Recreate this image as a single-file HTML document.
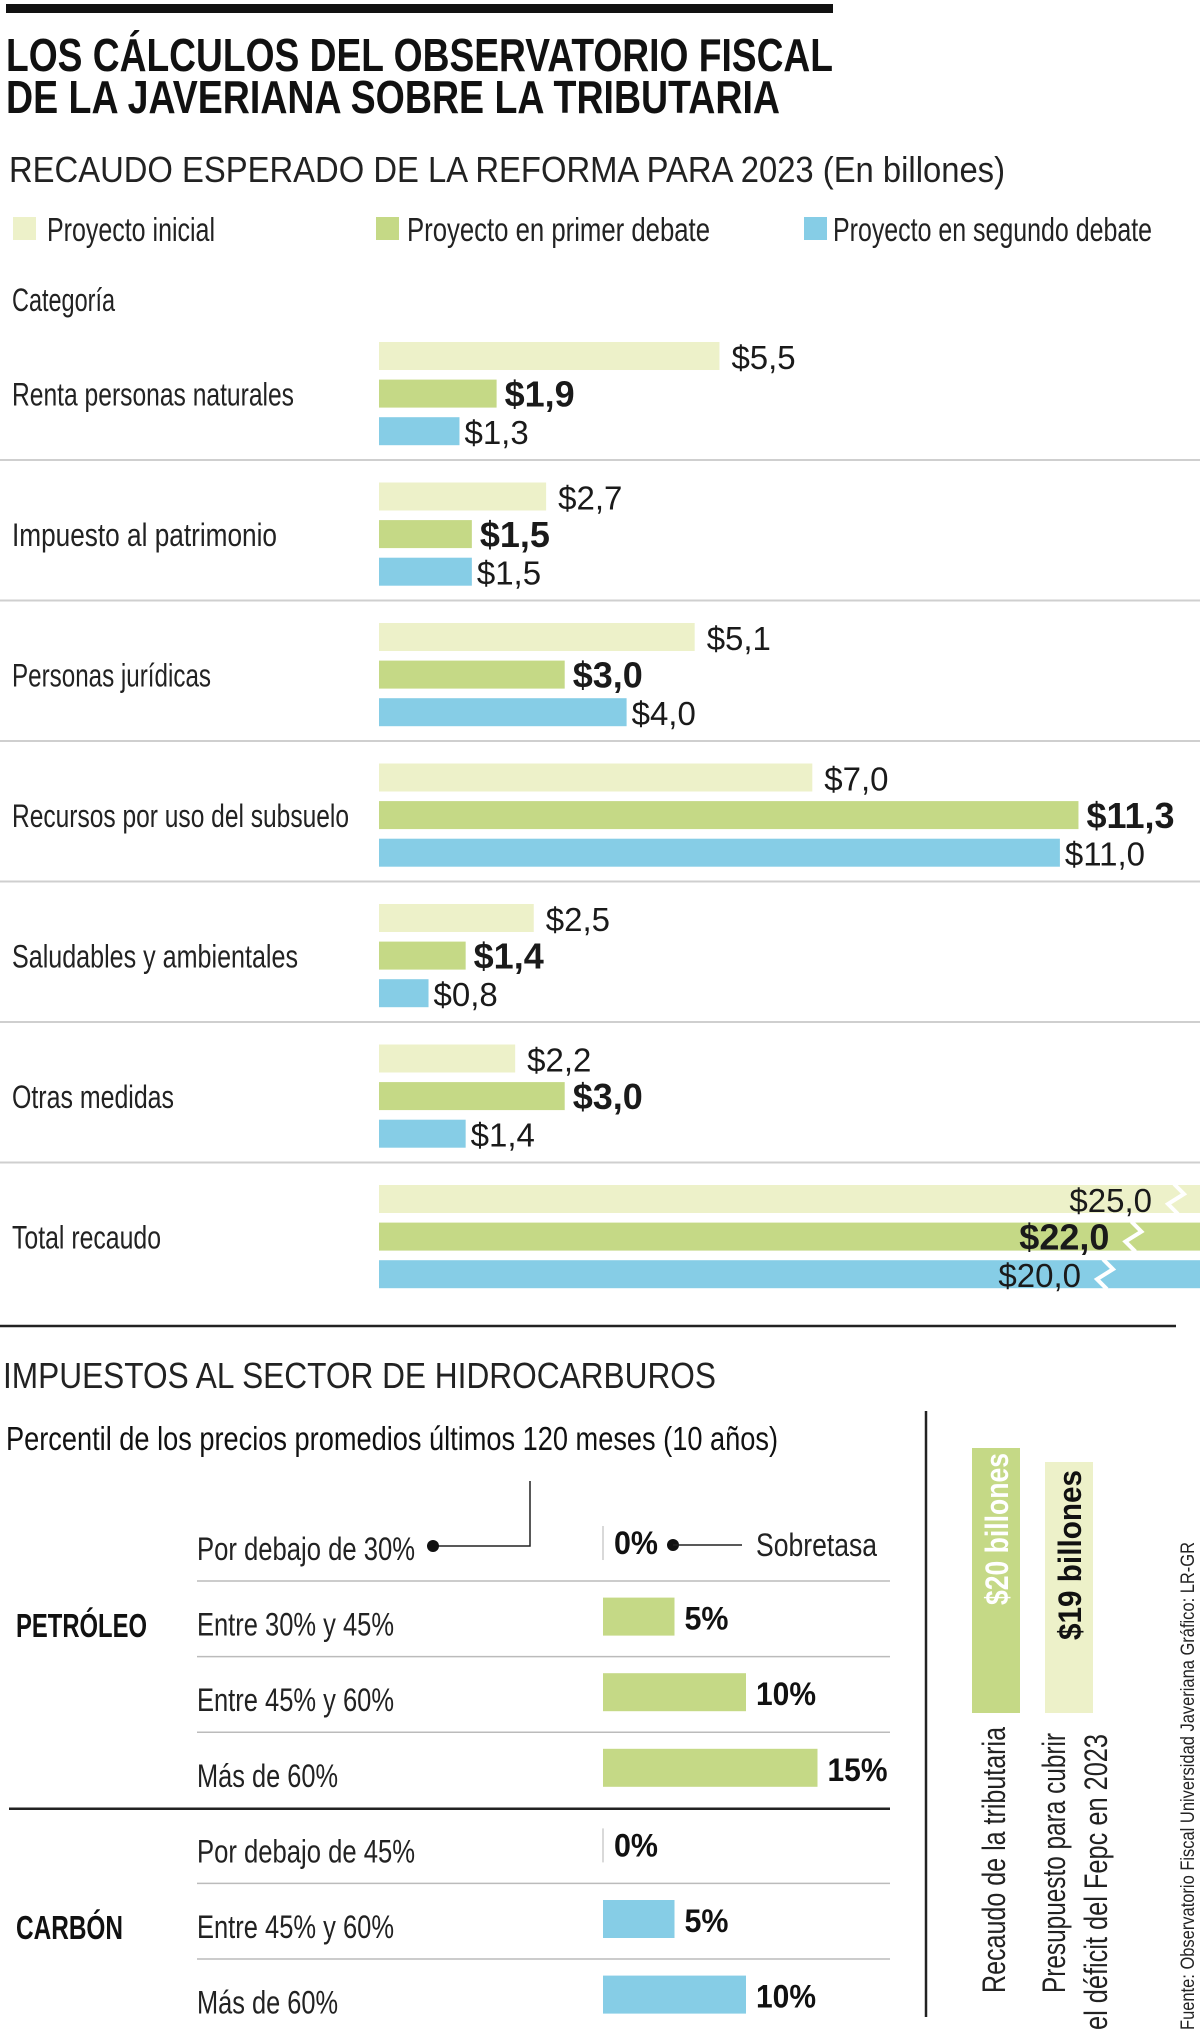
<!DOCTYPE html>
<html><head><meta charset="utf-8"><style>
html,body{margin:0;padding:0;background:#fff;}
svg{display:block;font-family:"Liberation Sans",sans-serif;}
</style></head><body>
<svg id="chart" width="1200" height="2034" viewBox="0 0 1200 2034" xmlns="http://www.w3.org/2000/svg">
<rect x="6" y="4" width="827" height="9" fill="#111"/>
<text x="6" y="71" font-size="46" font-weight="bold" fill="#111" textLength="827" lengthAdjust="spacingAndGlyphs">LOS CÁLCULOS DEL OBSERVATORIO FISCAL</text>
<text x="6" y="113" font-size="46" font-weight="bold" fill="#111" textLength="774" lengthAdjust="spacingAndGlyphs">DE LA JAVERIANA SOBRE LA TRIBUTARIA</text>
<text x="9" y="182" font-size="36" fill="#222" textLength="996" lengthAdjust="spacingAndGlyphs">RECAUDO ESPERADO DE LA REFORMA PARA 2023 (En billones)</text>
<g>
<rect x="13" y="217" width="23" height="23" fill="#edf1c9"/>
<text x="47" y="241" font-size="33" fill="#222" textLength="168" lengthAdjust="spacingAndGlyphs">Proyecto inicial</text>
<rect x="376" y="217" width="23" height="23" fill="#c5d986"/>
<text x="407" y="241" font-size="33" fill="#222" textLength="303" lengthAdjust="spacingAndGlyphs">Proyecto  en primer debate</text>
<rect x="804" y="217" width="23" height="23" fill="#86cde6"/>
<text x="833" y="241" font-size="33" fill="#222" textLength="319" lengthAdjust="spacingAndGlyphs">Proyecto en segundo debate</text>
</g>
<text x="12" y="311" font-size="32" fill="#222" textLength="103" lengthAdjust="spacingAndGlyphs">Categoría</text>
<g id="bars1"></g>
<line x1="0" y1="1326" x2="1176" y2="1326" stroke="#222" stroke-width="2.5"/>
<text x="3" y="1388" font-size="36" fill="#222" textLength="713" lengthAdjust="spacingAndGlyphs">IMPUESTOS AL SECTOR DE HIDROCARBUROS</text>
<line x1="926" y1="1411" x2="926" y2="2017" stroke="#222" stroke-width="2.5"/>
<text x="6" y="1450" font-size="33" fill="#111" textLength="772" lengthAdjust="spacingAndGlyphs">Percentil de los precios promedios últimos 120 meses (10 años)</text>
<polyline points="530,1481 530,1546 433,1546" fill="none" stroke="#222" stroke-width="1.5"/>
<circle cx="433" cy="1546" r="6" fill="#111"/>
<g id="bars2"></g>
<circle cx="673" cy="1545" r="6" fill="#111"/>
<line x1="673" y1="1545" x2="742" y2="1545" stroke="#222" stroke-width="1.5"/>
<text x="756" y="1556" font-size="32" fill="#222" textLength="121" lengthAdjust="spacingAndGlyphs">Sobretasa</text>
<text x="16" y="1637" font-size="33" font-weight="bold" fill="#111" textLength="131" lengthAdjust="spacingAndGlyphs">PETRÓLEO</text>
<text x="16" y="1939" font-size="33" font-weight="bold" fill="#111" textLength="107" lengthAdjust="spacingAndGlyphs">CARBÓN</text>
<rect x="972" y="1448" width="48" height="265" fill="#c5d986"/>
<text transform="translate(1008,1605) rotate(-90)" font-size="32" font-weight="bold" fill="#fff" textLength="152" lengthAdjust="spacingAndGlyphs">$20 billones</text>
<rect x="1045" y="1462" width="48" height="251" fill="#edf1c9"/>
<text transform="translate(1081,1640) rotate(-90)" font-size="32" font-weight="bold" fill="#111" textLength="170" lengthAdjust="spacingAndGlyphs">$19 billones</text>
<text transform="translate(1005,1993) rotate(-90)" font-size="32" fill="#222" textLength="266" lengthAdjust="spacingAndGlyphs">Recaudo de la tributaria</text>
<text transform="translate(1065,1993) rotate(-90)" font-size="32" fill="#222" textLength="260" lengthAdjust="spacingAndGlyphs">Presupuesto para cubrir</text>
<text transform="translate(1107,2030) rotate(-90)" font-size="32" fill="#222" textLength="296" lengthAdjust="spacingAndGlyphs">el déficit del Fepc en 2023</text>
<text transform="translate(1194,2030) rotate(-90)" font-size="19" fill="#222" textLength="488" lengthAdjust="spacingAndGlyphs">Fuente: Observatorio Fiscal Universidad Javeriana    Gráfico: LR-GR</text>
</svg>
<script>
const categories = ["Renta personas naturales","Impuesto al patrimonio","Personas jurídicas","Recursos por uso del subsuelo","Saludables y ambientales","Otras medidas"];
const inicial = [5.5, 2.7, 5.1, 7.0, 2.5, 2.2];
const primer = [1.9, 1.5, 3.0, 11.3, 1.4, 3.0];
const segundo = [1.3, 1.5, 4.0, 11.0, 0.8, 1.4];
const totalLabel = "Total recaudo";
const totals = [25.0, 22.0, 20.0];
const labelWidths = [282, 265, 199, 337, 286, 162, 149];
const petroleoRows = ["Por debajo de 30%","Entre 30% y 45%","Entre 45% y 60%","Más de 60%"];
const petroleoPct = [0, 5, 10, 15];
const carbonRows = ["Por debajo de 45%","Entre 45% y 60%","Más de 60%"];
const carbonPct = [0, 5, 10];

const NS = "http://www.w3.org/2000/svg";
const colors = ["#edf1c9", "#c5d986", "#86cde6"];
function mk(tag, attrs, parent, text){
  const e = document.createElementNS(NS, tag);
  for (const k in attrs) e.setAttribute(k, attrs[k]);
  if (text !== undefined) e.textContent = text;
  parent.appendChild(e);
  return e;
}
function fmt(v){ return "$" + v.toFixed(1).replace(".", ","); }
const x0 = 379, unit = 61.9;
function xs(v){ return x0 + v * unit; }
function xt(v){ return 819 + v * 14.2; } // compressed axis for totals
function gy(i){ return 342 + i * 140.5; }

const g1 = document.getElementById("bars1");
const series = [inicial, primer, segundo];
const names = ["inicial","primer","segundo"];
categories.forEach((c, i) => {
  const top = gy(i);
  const t = mk("text", {x:12, y:top+37.6+26, "font-size":32, fill:"#222", textLength:labelWidths[i], lengthAdjust:"spacingAndGlyphs"}, g1, c);
  
  
  series.forEach((s, j) => {
    const y = top + j*37.6;
    const r = mk("rect", {x:x0, y:y, width:xs(s[i])-x0, height:28, fill:colors[j]}, g1);
    
    
    const bold = j === 1;
    const lx = xs(s[i]) + (j===0 ? 12 : (j===1 ? 8 : 5));
    const vt = mk("text", {x:lx, y:y+27, "font-size": bold ? 36 : 33, "font-weight": bold ? "bold" : "normal", fill:"#1a1a1a"}, g1, fmt(s[i]));
    
    
  });
  const ln = mk("line", {x1:0, x2:1200, y1:top+118, y2:top+118, stroke:"#cfcfcf", "stroke-width":2}, g1);
  
  
});
// totals
(function(){
  const top = gy(6);
  const t = mk("text", {x:12, y:top+37.6+26, "font-size":32, fill:"#222", textLength:labelWidths[6], lengthAdjust:"spacingAndGlyphs"}, g1, totalLabel);
  
  
  totals.forEach((v, j) => {
    const y = top + j*37.6;
    const r = mk("rect", {x:x0, y:y, width:1200-x0, height:28, fill:colors[j]}, g1);
    
    
    const bx = xt(v);
    const z = mk("polyline", {points:`${bx},${y-1} ${bx+10},${y+9} ${bx-6},${y+19} ${bx+4},${y+29}`, fill:"none", stroke:"#fff", "stroke-width":4}, g1);
    
    
    const bold = j === 1;
    const vt = mk("text", {x:bx-22, y:y+27, "text-anchor":"end", "font-size": bold ? 36 : 33, "font-weight": bold ? "bold" : "normal", fill:"#1a1a1a"}, g1, fmt(v));
    
    
  });
})();

// sobretasa table
const g2 = document.getElementById("bars2");
const px0 = 603, pu = 14.3;
function ps(p){ return px0 + p * pu; }
function rowY(i){ return 1560 + i * 75.6; }
const rowWidths = [218, 197, 197, 141, 218, 197, 141];
function drawRows(rows, pcts, offset, color, tag){
  rows.forEach((r, k) => {
    const i = offset + k;
    const by = rowY(i);
    const t = mk("text", {x:197, y:by, "font-size":32, fill:"#222", textLength:rowWidths[i], lengthAdjust:"spacingAndGlyphs"}, g2, r);
    
    
    const p = pcts[k];
    if (p === 0) {
      const l = mk("line", {x1:px0, x2:px0, y1:by-34, y2:by, stroke:"#ccc", "stroke-width":1.5}, g2);
      
      
    } else {
      const b = mk("rect", {x:px0, y:by-38, width:ps(p)-px0, height:38, fill:color}, g2);
      
      
    }
    const v = mk("text", {x:ps(p)+ (p===0 ? 11 : 10), y:by-6, "font-size":32, "font-weight":"bold", fill:"#111", textLength: (p>=10 ? 60 : 44), lengthAdjust:"spacingAndGlyphs"}, g2, p + "%");
    
    
    if (k < rows.length - 1) {
      const s = mk("line", {x1:197, x2:890, y1:by+21, y2:by+21, stroke:"#bbb", "stroke-width":1.5}, g2);
      
      
    }
  });
}
drawRows(petroleoRows, petroleoPct, 0, "#c5d986", "petroleo");
drawRows(carbonRows, carbonPct, 4, "#86cde6", "carbon");
(function(){
  const y = rowY(3) + 22;
  const l = mk("line", {x1:9, x2:890, y1:y, y2:y, stroke:"#222", "stroke-width":2.5}, g2);
  
  
})();
</script>
</body></html>
